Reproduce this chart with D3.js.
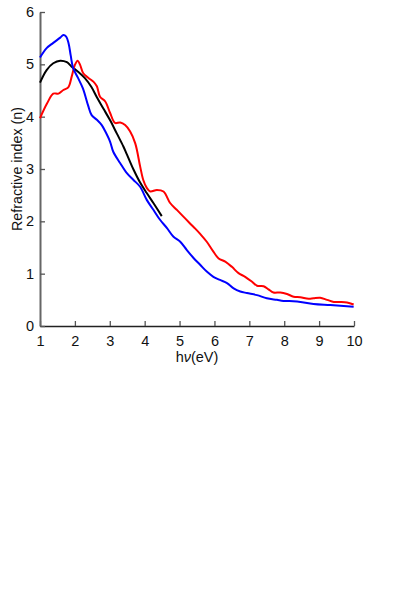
<!DOCTYPE html>
<html><head><meta charset="utf-8">
<script src="https://cdn.jsdelivr.net/npm/d3@7"></script>
<style>body{margin:0;background:#fff}svg{display:block}text{font-family:"Liberation Sans",Arial,sans-serif}</style>
</head><body>
<script>
const xTicks=[1,2,3,4,5,6,7,8,9,10];
const yTicks=[0,1,2,3,4,5,6];
const blueE=[1.0,1.19,1.38,1.58,1.67,1.75,1.82,1.88,1.95,2.09,2.23,2.38,2.48,2.63,2.77,2.87,3.01,3.10,3.30,3.49,3.68,3.87,4.06,4.25,4.44,4.64,4.82,5.02,5.21,5.40,5.59,5.78,5.97,6.16,6.36,6.55,6.74,6.93,7.22,7.50,7.79,7.98,8.37,8.84,9.32,9.99];
const blueN=[5.13,5.31,5.41,5.51,5.56,5.53,5.40,5.17,4.93,4.74,4.54,4.21,4.03,3.94,3.84,3.72,3.52,3.33,3.11,2.92,2.79,2.66,2.41,2.22,2.03,1.87,1.71,1.61,1.45,1.30,1.17,1.04,0.94,0.88,0.82,0.72,0.66,0.63,0.59,0.53,0.50,0.48,0.47,0.42,0.40,0.37];
const blackE=[1.0,1.19,1.38,1.58,1.77,1.9,2.09,2.28,2.47,2.63,2.82,3.01,3.2,3.39,3.49,3.68,3.87,4.06,4.25,4.49];
const blackN=[4.65,4.89,5.02,5.07,5.04,4.96,4.86,4.74,4.57,4.37,4.15,3.93,3.68,3.43,3.28,2.99,2.74,2.54,2.35,2.10];
const redE=[1.0,1.2,1.38,1.53,1.67,1.81,1.91,2.0,2.08,2.15,2.24,2.39,2.53,2.63,2.72,2.87,3.01,3.15,3.3,3.44,3.58,3.73,3.87,3.96,4.06,4.16,4.35,4.54,4.73,4.92,5.11,5.30,5.45,5.59,5.78,5.97,6.12,6.31,6.50,6.69,6.88,7.07,7.22,7.41,7.55,7.69,7.89,8.08,8.27,8.46,8.70,8.84,9.03,9.23,9.42,9.61,9.80,9.99];
const redN=[3.97,4.25,4.44,4.44,4.51,4.56,4.77,4.99,5.07,4.99,4.83,4.74,4.67,4.58,4.38,4.29,4.07,3.88,3.89,3.84,3.72,3.49,3.05,2.79,2.64,2.57,2.60,2.57,2.35,2.22,2.09,1.96,1.86,1.76,1.61,1.42,1.29,1.23,1.13,1.01,0.94,0.85,0.77,0.76,0.70,0.64,0.64,0.61,0.56,0.55,0.52,0.53,0.54,0.50,0.46,0.46,0.45,0.41];

const W=415,H=594;
const svg=d3.select("body").append("svg").attr("width",W).attr("height",H);
const x=d3.scaleLinear().domain([1,10]).range([40,354]);
const y=d3.scaleLinear().domain([0,6]).range([326,12]);

const gx=svg.append("g").attr("transform","translate(0,326)")
  .call(d3.axisBottom(x).tickValues(xTicks).tickSizeInner(-5).tickSizeOuter(0).tickPadding(10).tickFormat(d3.format("d")));
gx.select(".domain").attr("stroke","#222").attr("stroke-width",1.5);
gx.selectAll(".tick line").attr("stroke","#555").attr("stroke-width",1.3);
gx.selectAll("text").attr("font-size",14.5).attr("fill","#111");

const gy=svg.append("g").attr("transform","translate(40,0)")
  .call(d3.axisLeft(y).tickValues(yTicks).tickSizeInner(-5).tickSizeOuter(0).tickPadding(6).tickFormat(d3.format("d")));
gy.select(".domain").attr("stroke","#666").attr("stroke-width",2);
gy.selectAll(".tick line").attr("stroke","#555").attr("stroke-width",1.3);
gy.selectAll("text").attr("font-size",14.5).attr("fill","#111");

const line=d3.line().x(d=>x(d[0])).y(d=>y(d[1])).curve(d3.curveCatmullRom.alpha(0.5));
const series=[[blackE,blackN,"#000"],[redE,redN,"#ff0000"],[blueE,blueN,"#0000ff"]];
series.forEach(([E,N,c])=>{
  svg.append("path").datum(E.map((e,i)=>[e,N[i]])).attr("d",line)
    .attr("fill","none").attr("stroke",c).attr("stroke-width",2);
});

const xl=svg.append("text").attr("x",197).attr("y",362).attr("text-anchor","middle").attr("font-size",14.5).attr("fill","#111");
xl.append("tspan").text("h");
xl.append("tspan").attr("font-style","italic").text("ν");
xl.append("tspan").text("(eV)");

svg.append("text").attr("transform","translate(22,169) rotate(-90)").attr("text-anchor","middle")
  .attr("font-size",14.3).attr("fill","#111").text("Refractive index (n)");
</script>
</body></html>
